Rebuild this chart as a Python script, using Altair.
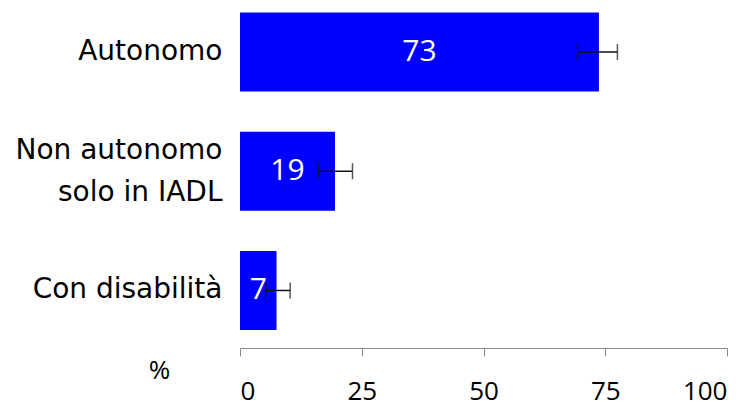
import altair as alt
import pandas as pd

categories = ["Autonomo", "Non autonomo\nsolo in IADL", "Con disabilità"]
values = [73.7, 19.5, 7.5]
labels = ["73", "19", "7"]
err_low = [69.3, 16.1, 5.3]
err_high = [77.5, 23.1, 10.3]
x_ticks = [0, 25, 50, 75, 100]

df = pd.DataFrame({
    "cat": categories,
    "value": values,
    "label": labels,
    "lo": err_low,
    "hi": err_high,
})

y_scale = alt.Scale(range=[4.5, 322], paddingInner=0.337, paddingOuter=0)
x_scale = alt.Scale(domain=[0, 100], nice=False)

y_axis = alt.Axis(
    title=None,
    ticks=False,
    domain=False,
    labelFont="DejaVu Sans",
    labelFontSize=28,
    labelColor="#000000",
    labelPadding=18,
    labelLineHeight=42,
    labelLimit=300,
    labelExpr="split(datum.label, '\\n')",
    labelOffset={"condition": {"test": "indexof(datum.value, 'IADL') >= 0", "value": -20}, "value": 0},
)
x_axis = alt.Axis(
    values=x_ticks,
    grid=False,
    domainColor="#8c8c8c",
    tickColor="#8c8c8c",
    tickSize=8,
    labelFont="Open Sans",
    labelFontSize=26,
    labelColor="#000000",
    labelPadding=22,
    title="%",
    titleFont="Open Sans",
    titleFontSize=26,
    titleFontWeight="normal",
    titleColor="#000000",
    titleX=-81,
    titleY=22,
    titleAlign="center",
    titleBaseline="middle",
)

y_enc = alt.Y("cat:N", sort=categories, scale=y_scale, axis=y_axis)


def xq(field):
    return alt.X(field, type="quantitative", scale=x_scale, axis=x_axis)


bars = alt.Chart(df).mark_bar(color="#0000FF").encode(
    x=xq("value"),
    y=y_enc,
)

text = alt.Chart(df).transform_calculate(mid="datum.value / 2").mark_text(
    color="white", font="Open Sans", fontSize=30, align="center", baseline="middle"
).encode(
    x=xq("mid"),
    y=y_enc,
    text="label:N",
)

rule = alt.Chart(df).mark_rule(color="#111111", strokeWidth=1.5).encode(
    x=xq("lo"),
    x2="hi:Q",
    y=y_enc,
)

cap_lo = alt.Chart(df).mark_tick(color="#111111", thickness=1.5, size=16, orient="vertical").encode(
    x=xq("lo"),
    y=y_enc,
)
cap_hi = alt.Chart(df).mark_tick(color="#111111", thickness=1.5, size=16, orient="vertical").encode(
    x=xq("hi"),
    y=y_enc,
)

chart = alt.layer(bars, text, rule, cap_lo, cap_hi).properties(
    width=487,
    height=340,
    autosize=alt.AutoSizeParams(type="none"),
    padding={"left": 232, "top": 0, "right": 20, "bottom": 55},
).configure(background="white").configure_view(stroke=None)

chart.save("out.html", embed_options={"renderer": "svg", "actions": False})
